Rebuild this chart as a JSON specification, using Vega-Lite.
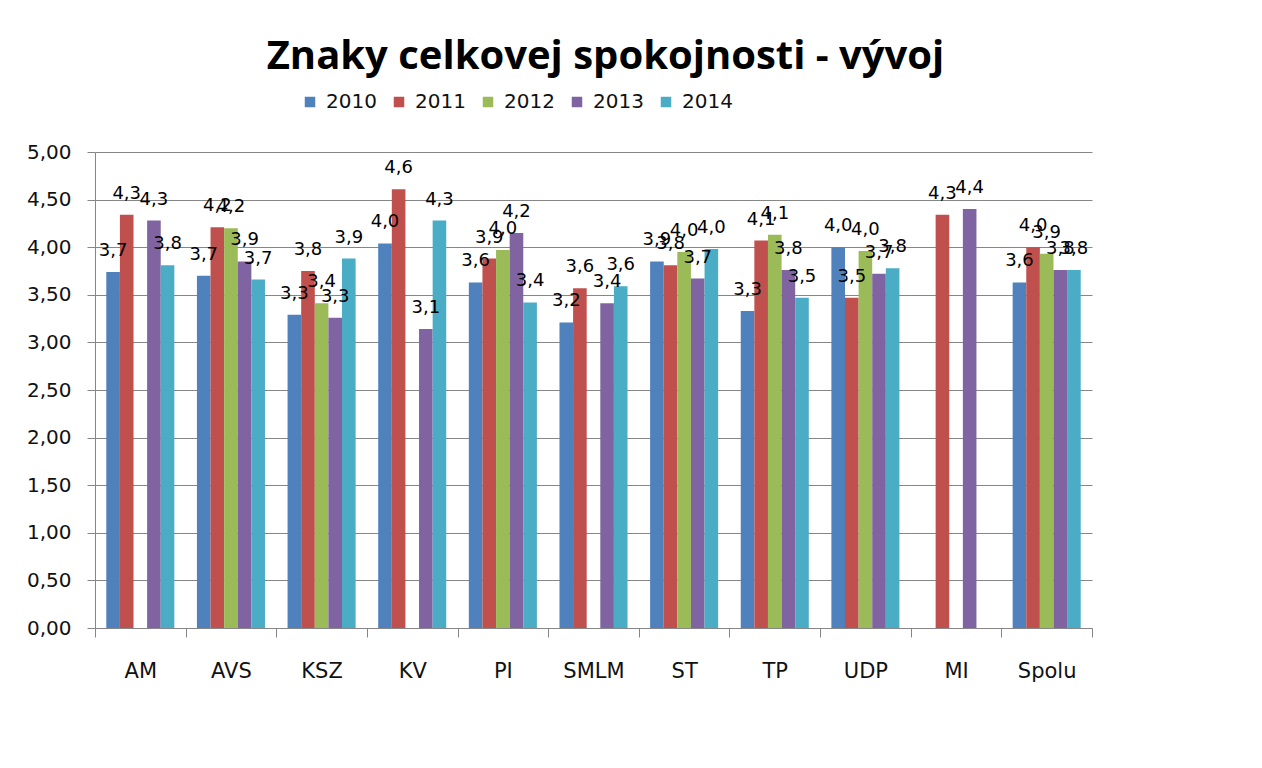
{
  "$schema": "https://vega.github.io/schema/vega-lite/v6.json",
  "autosize": "none",
  "width": 997,
  "height": 476,
  "padding": {"left": 95, "top": 152, "right": 170, "bottom": 140},
  "background": "white",
  "title": {
    "text": "Znaky celkovej spokojnosti - vývoj",
    "anchor": "middle",
    "frame": "group",
    "orient": "top",
    "baseline": "alphabetic",
    "offset": 20,
    "dy": 37,
    "dx": 12,
    "font": "Open Sans",
    "fontSize": 40,
    "fontWeight": "bold",
    "color": "black"
  },
  "data": {
    "values": [
      {"unit": "AM", "year": "2010", "value": 3.74},
      {"unit": "AM", "year": "2011", "value": 4.34},
      {"unit": "AM", "year": "2013", "value": 4.28},
      {"unit": "AM", "year": "2014", "value": 3.81},
      {"unit": "AVS", "year": "2010", "value": 3.70},
      {"unit": "AVS", "year": "2011", "value": 4.21},
      {"unit": "AVS", "year": "2012", "value": 4.20},
      {"unit": "AVS", "year": "2013", "value": 3.85},
      {"unit": "AVS", "year": "2014", "value": 3.66},
      {"unit": "KSZ", "year": "2010", "value": 3.29},
      {"unit": "KSZ", "year": "2011", "value": 3.75},
      {"unit": "KSZ", "year": "2012", "value": 3.41},
      {"unit": "KSZ", "year": "2013", "value": 3.26},
      {"unit": "KSZ", "year": "2014", "value": 3.88},
      {"unit": "KV", "year": "2010", "value": 4.04},
      {"unit": "KV", "year": "2011", "value": 4.61},
      {"unit": "KV", "year": "2013", "value": 3.14},
      {"unit": "KV", "year": "2014", "value": 4.28},
      {"unit": "PI", "year": "2010", "value": 3.63},
      {"unit": "PI", "year": "2011", "value": 3.88},
      {"unit": "PI", "year": "2012", "value": 3.97},
      {"unit": "PI", "year": "2013", "value": 4.15},
      {"unit": "PI", "year": "2014", "value": 3.42},
      {"unit": "SMLM", "year": "2010", "value": 3.21},
      {"unit": "SMLM", "year": "2011", "value": 3.57},
      {"unit": "SMLM", "year": "2013", "value": 3.41},
      {"unit": "SMLM", "year": "2014", "value": 3.59},
      {"unit": "ST", "year": "2010", "value": 3.85},
      {"unit": "ST", "year": "2011", "value": 3.81},
      {"unit": "ST", "year": "2012", "value": 3.95},
      {"unit": "ST", "year": "2013", "value": 3.67},
      {"unit": "ST", "year": "2014", "value": 3.98},
      {"unit": "TP", "year": "2010", "value": 3.33},
      {"unit": "TP", "year": "2011", "value": 4.07},
      {"unit": "TP", "year": "2012", "value": 4.13},
      {"unit": "TP", "year": "2013", "value": 3.76},
      {"unit": "TP", "year": "2014", "value": 3.47},
      {"unit": "UDP", "year": "2010", "value": 4.00},
      {"unit": "UDP", "year": "2011", "value": 3.47},
      {"unit": "UDP", "year": "2012", "value": 3.96},
      {"unit": "UDP", "year": "2013", "value": 3.72},
      {"unit": "UDP", "year": "2014", "value": 3.78},
      {"unit": "MI", "year": "2011", "value": 4.34},
      {"unit": "MI", "year": "2013", "value": 4.40},
      {"unit": "Spolu", "year": "2010", "value": 3.63},
      {"unit": "Spolu", "year": "2011", "value": 4.00},
      {"unit": "Spolu", "year": "2012", "value": 3.93},
      {"unit": "Spolu", "year": "2013", "value": 3.76},
      {"unit": "Spolu", "year": "2014", "value": 3.76}
    ]
  },
  "encoding": {
    "x": {
      "field": "unit",
      "type": "nominal",
      "sort": null,
      "scale": {"paddingInner": 0, "paddingOuter": 0},
      "axis": {
        "title": null,
        "labelAngle": 0,
        "tickBand": "extent",
        "grid": false,
        "domainColor": "#868686",
        "tickColor": "#868686",
        "tickSize": 9,
        "labelPadding": 23,
        "labelFont": "DejaVu Sans",
        "labelFontSize": 21,
        "labelColor": "#111111"
      }
    },
    "xOffset": {
      "field": "year",
      "type": "nominal",
      "scale": {"paddingInner": 0, "paddingOuter": 0.83}
    },
    "y": {
      "field": "value",
      "type": "quantitative",
      "scale": {"domain": [0, 5], "nice": false},
      "axis": {
        "title": null,
        "values": [0, 0.5, 1, 1.5, 2, 2.5, 3, 3.5, 4, 4.5, 5],
        "format": ".2f",
        "grid": true,
        "gridColor": "#868686",
        "gridOpacity": 1,
        "domainColor": "#868686",
        "tickColor": "#868686",
        "tickSize": 8,
        "labelPadding": 16,
        "labelFont": "DejaVu Sans",
        "labelFontSize": 20,
        "labelColor": "#111111"
      }
    }
  },
  "layer": [
    {
      "mark": {"type": "bar"},
      "encoding": {
        "color": {
          "field": "year",
          "type": "nominal",
          "scale": {
            "domain": ["2010", "2011", "2012", "2013", "2014"],
            "range": ["#4F81BD", "#C0504D", "#9BBB59", "#8064A2", "#4BACC6"]
          },
          "legend": {
            "title": null,
            "orient": "none",
            "direction": "horizontal",
            "legendX": 205,
            "legendY": -60,
            "symbolType": "square",
            "symbolSize": 110,
            "symbolStrokeWidth": 0,
            "symbolOpacity": 1,
            "labelFont": "DejaVu Sans",
            "labelFontSize": 20,
            "labelColor": "#111111",
            "labelOffset": 6,
            "columnPadding": 12
          }
        }
      }
    },
    {
      "mark": {
        "type": "text",
        "baseline": "alphabetic",
        "dy": -16,
        "font": "DejaVu Sans",
        "fontSize": 18,
        "color": "black"
      },
      "encoding": {
        "text": {"field": "value", "type": "quantitative", "format": ".1f"}
      }
    }
  ],
  "config": {
    "locale": {
      "number": {"decimal": ",", "thousands": " ", "grouping": [3], "currency": ["", " €"]}
    },
    "view": {"stroke": null}
  }
}
